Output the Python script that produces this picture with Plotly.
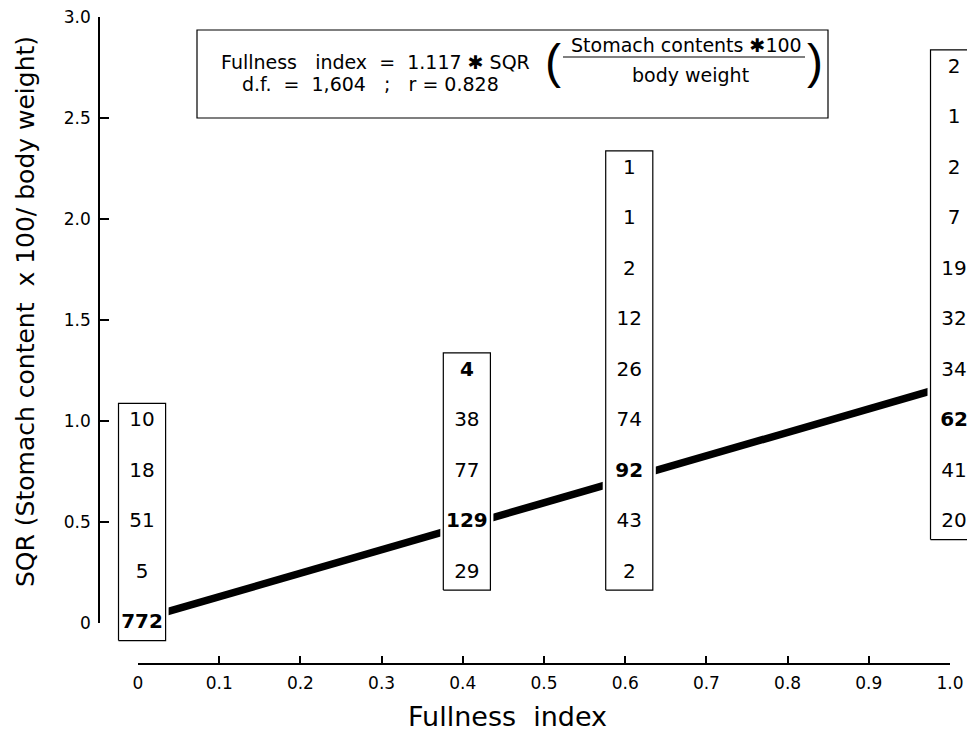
import plotly.graph_objects as go

# ---------------- data ----------------
col_x = [0.0, 0.4, 0.6, 1.0]

col0_levels = [1.0, 0.75, 0.5, 0.25, 0.0]
col0_counts = [10, 18, 51, 5, 772]
col0_bold = [False, False, False, False, True]

col1_levels = [1.25, 1.0, 0.75, 0.5, 0.25]
col1_counts = [4, 38, 77, 129, 29]
col1_bold = [True, False, False, True, False]

col2_levels = [2.25, 2.0, 1.75, 1.5, 1.25, 1.0, 0.75, 0.5, 0.25]
col2_counts = [1, 1, 2, 12, 26, 74, 92, 43, 2]
col2_bold = [False, False, False, False, False, False, True, False, False]

col3_levels = [2.75, 2.5, 2.25, 2.0, 1.75, 1.5, 1.25, 1.0, 0.75, 0.5]
col3_counts = [2, 1, 2, 7, 19, 32, 34, 62, 41, 20]
col3_bold = [False, False, False, False, False, False, False, True, False, False]

fit_x = [0.0, 1.0]
fit_y = [0.014, 1.176]

x_tick_vals = [0, 0.1, 0.2, 0.3, 0.4, 0.5, 0.6, 0.7, 0.8, 0.9, 1.0]
x_tick_text = ["0", "0.1", "0.2", "0.3", "0.4", "0.5", "0.6", "0.7", "0.8", "0.9", "1.0"]
y_tick_vals = [0, 0.5, 1.0, 1.5, 2.0, 2.5, 3.0]
y_tick_text = ["0", "0.5", "1.0", "1.5", "2.0", "2.5", "3.0"]

# ---------------- layout geometry (reference pixels) ----------------
WIN_W, WIN_H = 975, 734
OFF = 8                               # page body margin
W, H = WIN_W - OFF, WIN_H - OFF
FONT = "DejaVu Sans"
X0PX, X1PX = 138, 950      # pixel of x=0 and x=1
Y0PX, Y3PX = 623, 17       # pixel of y=0 and y=3
XAXIS_PX = 664             # pixel row of detached x axis line
YAXIS_PX = 99              # pixel column of detached y axis line

def fx(px):
    return (px - OFF) / W

def fy(py):
    return 1 - (py - OFF) / H

sx = (X1PX - X0PX) / 1.0
sy = (Y0PX - Y3PX) / 3.0
xa, xb = -(X0PX - OFF) / sx, (OFF + W - X0PX) / sx
ya, yb = -(OFF + H - Y0PX) / sy, (Y0PX - OFF) / sy

COL_SHIFT = 0.005
BOX_HW = 0.029
PAD = 0.087

columns = [
    (col_x[0], col0_levels, col0_counts, col0_bold),
    (col_x[1], col1_levels, col1_counts, col1_bold),
    (col_x[2], col2_levels, col2_counts, col2_bold),
    (col_x[3], col3_levels, col3_counts, col3_bold),
]

fig = go.Figure()

# regression line
fig.add_trace(go.Scatter(x=fit_x, y=fit_y, mode="lines",
                         line=dict(color="black", width=7.5),
                         hoverinfo="skip", showlegend=False))

# boxes
bx, by = [], []
tx, ty, tt = [], [], []
for c, levels, counts, bold in columns:
    xc = c + COL_SHIFT
    x0, x1 = xc - BOX_HW, xc + BOX_HW
    top, bot = max(levels) + PAD, min(levels) - PAD
    bx += [x0, x1, x1, x0, x0, None]
    by += [bot, bot, top, top, bot, None]
    for lv, n, b in zip(levels, counts, bold):
        tx.append(xc)
        ty.append(lv)
        tt.append(f"<b>{n}</b>" if b else str(n))

fig.add_trace(go.Scatter(x=bx, y=by, mode="lines", fill="toself",
                         fillcolor="white", line=dict(color="white", width=6),
                         hoverinfo="skip", showlegend=False))
fig.add_trace(go.Scatter(x=bx, y=by, mode="lines",
                         line=dict(color="black", width=1.2),
                         hoverinfo="skip", showlegend=False))
fig.add_trace(go.Scatter(x=tx, y=ty, mode="text", text=tt,
                         textposition="middle center",
                         textfont=dict(family=FONT, size=20, color="black"),
                         cliponaxis=False, hoverinfo="skip", showlegend=False))

# trace holding the displayed (detached) axes
fig.add_trace(go.Scatter(x=[None], y=[None], xaxis="x2", yaxis="y2",
                         mode="markers", showlegend=False, hoverinfo="skip"))

axis_common = dict(showline=True, linecolor="black", linewidth=1.5,
                   ticks="inside", tickwidth=1.5, tickcolor="black",
                   showgrid=False, zeroline=False, automargin=False,
                   ticklabeloverflow="allow",
                   tickfont=dict(family=FONT, size=17, color="black"),
                   anchor="free", tickmode="array")

fig.update_layout(
    width=W, height=H,
    margin=dict(l=0, r=0, t=0, b=0, pad=0, autoexpand=False),
    paper_bgcolor="white", plot_bgcolor="rgba(0,0,0,0)",
    showlegend=False,
    xaxis=dict(domain=[0, 1], range=[xa, xb], visible=False, automargin=False),
    yaxis=dict(domain=[0, 1], range=[ya, yb], visible=False, automargin=False),
    xaxis2=dict(domain=[fx(X0PX), fx(X1PX)], range=[0, 1],
                position=fy(XAXIS_PX), ticklen=7,
                tickvals=x_tick_vals, ticktext=x_tick_text,
                ticklabelstandoff=4, **axis_common),
    yaxis2=dict(domain=[fy(Y0PX), fy(Y3PX)], range=[0, 3],
                position=fx(YAXIS_PX), ticklen=9,
                tickvals=y_tick_vals, ticktext=y_tick_text,
                ticklabelstandoff=4, **axis_common),
)

def ann(text, px, py, size, angle=0, family=FONT):
    fig.add_annotation(text=text, x=fx(px), y=fy(py), xref="paper", yref="paper",
                       showarrow=False, xanchor="center", yanchor="middle",
                       textangle=angle,
                       font=dict(family=family, size=size, color="black"))

ann("SQR (Stomach content  x 100/ body weight)", 25, 312, 25, -90)
ann("Fullness  index", 507, 716, 27)

# equation box
ann("Fullness   index  =  1.117 ✱ SQR", 375, 62, 19)
ann("d.f.  =  1,604   ;   r = 0.828", 370, 84, 19)
ann("Stomach contents ✱100", 686, 45, 19)
ann("body weight", 690, 75, 19)
ann("(", 553, 62, 48, family="Liberation Sans")
ann(")", 815, 62, 48, family="Liberation Sans")

fig.add_shape(type="rect", xref="paper", yref="paper",
              x0=fx(197), x1=fx(828), y0=fy(118), y1=fy(30),
              line=dict(color="black", width=1.2), fillcolor="rgba(0,0,0,0)")
fig.add_shape(type="line", xref="paper", yref="paper",
              x0=fx(563), x1=fx(805), y0=fy(57), y1=fy(57),
              line=dict(color="black", width=1.2))

fig.write_html("out.html")
